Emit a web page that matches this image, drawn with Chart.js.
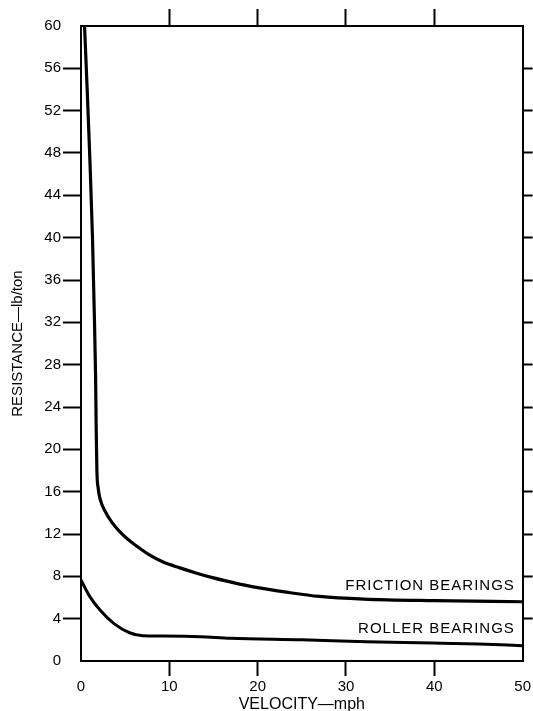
<!DOCTYPE html>
<html>
<head>
<meta charset="utf-8">
<script src="https://cdn.jsdelivr.net/npm/chart.js@4/dist/chart.umd.min.js"></script>
<style>
  html, body { margin: 0; padding: 0; background: #fff; }
  #wrap { width: 533px; height: 711px; }
</style>
</head>
<body>
<div id="wrap"><canvas id="c" width="533" height="711"></canvas></div>
<script>
// ---- data ----
const frictionVelocity = [0.4, 0.7, 1.0, 1.3, 1.5, 1.65, 1.72, 1.8, 1.95, 2.2, 2.7, 3.5, 4.3, 5.3, 6.4, 7.6, 9.3, 11.2, 13.1, 15.0, 17.0, 19.5, 23.3, 27.0, 32.0, 40.0, 50.0];
const frictionResistance = [60, 54, 47.5, 40, 33, 27, 22, 18, 16.3, 15.2, 14.2, 13.1, 12.3, 11.5, 10.8, 10.1, 9.35, 8.8, 8.3, 7.85, 7.45, 7.0, 6.5, 6.1, 5.85, 5.7, 5.6];
const rollerVelocity = [0, 1.0, 2.15, 3.7, 5.5, 7.0, 9.3, 13.5, 16.9, 25.0, 32.3, 39.8, 45.0, 50.0];
const rollerResistance = [7.65, 6.08, 4.82, 3.56, 2.67, 2.39, 2.36, 2.3, 2.15, 2.0, 1.82, 1.7, 1.6, 1.45];
const seriesNames = ['FRICTION BEARINGS', 'ROLLER BEARINGS'];
const xTitle = 'VELOCITY\u2014mph';
const yTitle = 'RESISTANCE\u2014lb/ton';

const toPoints = (xs, ys) => xs.map((x, i) => ({ x: x, y: ys[i] }));

const FONT = '"Liberation Sans", Arial, Helvetica, sans-serif';

const whiteBg = {
  id: 'whiteBg',
  beforeDraw(chart) {
    const ctx = chart.ctx;
    ctx.save();
    ctx.fillStyle = '#fff';
    ctx.fillRect(0, 0, chart.width, chart.height);
    ctx.restore();
  }
};

// curve labels placed at the right end of each curve
const curveLabels = {
  id: 'curveLabels',
  afterDatasetsDraw(chart) {
    const ctx = chart.ctx;
    const xs = chart.scales.x, ys = chart.scales.y;
    const spots = [{ x: 49, y: 7.1 }, { x: 49, y: 3.0 }];
    ctx.save();
    ctx.fillStyle = '#000';
    ctx.font = '15px ' + FONT;
    ctx.textAlign = 'right';
    ctx.textBaseline = 'middle';
    try { ctx.letterSpacing = '1px'; } catch (e) {}
    chart.data.datasets.forEach((ds, i) => {
      ctx.fillText(ds.label, xs.getPixelForValue(spots[i].x) + 1, ys.getPixelForValue(spots[i].y));
    });
    ctx.restore();
  }
};

const tickColorNoEnds = (min, max) => (c) => (c.tick && (c.tick.value === min || c.tick.value === max)) ? 'rgba(0,0,0,0)' : '#000';

new Chart(document.getElementById('c'), {
  type: 'scatter',
  data: {
    datasets: [
      {
        label: seriesNames[0],
        data: toPoints(frictionVelocity, frictionResistance),
        showLine: true,
        borderColor: '#000',
        borderWidth: 3.2,
        pointRadius: 0,
        cubicInterpolationMode: 'monotone'
      },
      {
        label: seriesNames[1],
        data: toPoints(rollerVelocity, rollerResistance),
        showLine: true,
        borderColor: '#000',
        borderWidth: 3,
        pointRadius: 0,
        cubicInterpolationMode: 'monotone'
      }
    ]
  },
  options: {
    responsive: false,
    animation: false,
    layout: { padding: 0 },
    plugins: {
      legend: { display: false },
      tooltip: { enabled: false }
    },
    scales: {
      x: {
        type: 'linear',
        position: 'bottom',
        min: 0, max: 50,
        ticks: { stepSize: 10, color: '#000', font: { family: FONT, size: 15 }, padding: 2, maxRotation: 0 },
        grid: { drawOnChartArea: false, tickLength: 15, tickWidth: 2, tickColor: tickColorNoEnds(0, 50) },
        border: { display: true, color: '#000', width: 2 },
        title: { display: true, text: xTitle, color: '#000', font: { family: FONT, size: 16 }, padding: { top: 0, bottom: -3 } },
        afterFit(s) { s.height = 50; }
      },
      xTop: {
        type: 'linear',
        position: 'top',
        min: 0, max: 50,
        ticks: { stepSize: 10, display: false },
        grid: { drawOnChartArea: false, tickLength: 17, tickWidth: 2, tickColor: tickColorNoEnds(0, 50) },
        border: { display: true, color: '#000', width: 2 },
        afterFit(s) { s.height = 26; }
      },
      y: {
        type: 'linear',
        position: 'left',
        min: 0, max: 60,
        ticks: { stepSize: 4, color: '#000', font: { family: FONT, size: 15 }, padding: 2 },
        grid: { drawOnChartArea: false, tickLength: 18, tickWidth: 2, tickColor: tickColorNoEnds(0, 60) },
        border: { display: true, color: '#000', width: 2 },
        title: { display: true, text: yTitle, color: '#000', font: { family: FONT, size: 15 }, padding: { top: 9, bottom: 0 } },
        afterFit(s) { s.width = 81; }
      },
      yRight: {
        type: 'linear',
        position: 'right',
        min: 0, max: 60,
        ticks: { stepSize: 4, display: false },
        grid: { drawOnChartArea: false, tickLength: 10, tickWidth: 2, tickColor: tickColorNoEnds(0, 60) },
        border: { display: true, color: '#000', width: 2 },
        afterFit(s) { s.width = 10; }
      }
    }
  },
  plugins: [whiteBg, curveLabels]
});
</script>
</body>
</html>
